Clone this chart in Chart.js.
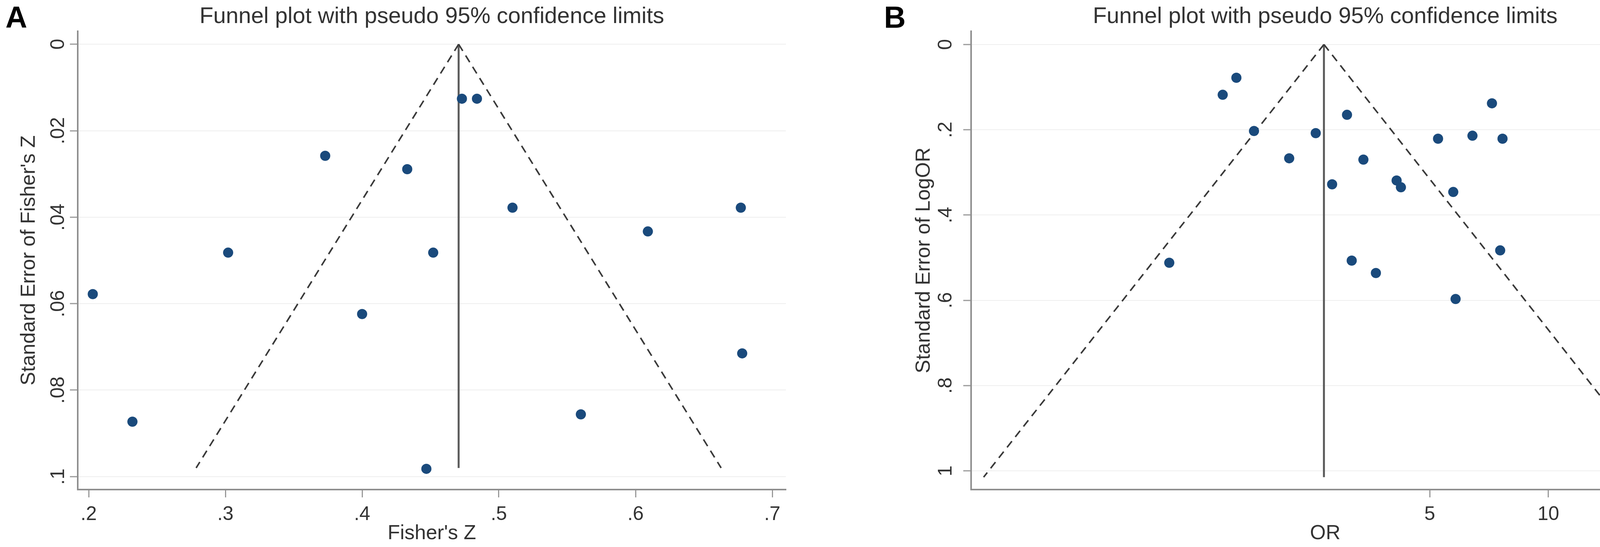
<!DOCTYPE html>
<html>
<head>
<meta charset="utf-8">
<script src="https://cdn.jsdelivr.net/npm/chart.js@4.4.1/dist/chart.umd.min.js"></script>
<style>
  html, body { margin: 0; padding: 0; background: #fff; }
  #wrap { position: relative; width: 4317px; height: 1400px; }
  #wrap canvas { position: absolute; top: 0; }
</style>
</head>
<body>
<div id="wrap">
  <canvas id="panelA" width="2200" height="1400" style="left:0"></canvas>
  <canvas id="panelB" width="2117" height="1400" style="left:2200px"></canvas>
</div>
<script>
// Panel A: Fisher's Z vs its standard error
const fisherZ   = [0.203, 0.232, 0.302, 0.373, 0.400, 0.433, 0.452, 0.447, 0.473, 0.484, 0.510, 0.560, 0.609, 0.677, 0.678];
const seFisherZ = [0.0578, 0.0873, 0.0482, 0.0258, 0.0624, 0.0289, 0.0482, 0.0982, 0.0126, 0.0126, 0.0378, 0.0856, 0.0433, 0.0378, 0.0715];
const pooledA = 0.4706;   // vertical line
const maxSeA = 0.098;     // bottom of the funnel
const lowerA = 0.2786;    // funnel limits at maxSeA
const upperA = 0.6626;
const xTicksA = [0.2, 0.3, 0.4, 0.5, 0.6, 0.7];
const yTicksA = [0, 0.02, 0.04, 0.06, 0.08, 0.1];

// Panel B: OR vs standard error of log OR
const oddsRatio = [1.615, 1.491, 1.790, 2.199, 2.568, 2.826, 3.083, 3.393, 4.120, 4.225, 5.737, 5.249, 6.418, 7.193, 7.651, 7.547, 3.169, 3.650, 1.091, 5.816, 19.2, 19.73];
const seLogOR   = [0.078, 0.118, 0.203, 0.267, 0.208, 0.328, 0.165, 0.270, 0.319, 0.335, 0.346, 0.221, 0.214, 0.138, 0.221, 0.483, 0.507, 0.536, 0.512, 0.597, 0.593, 1.015];
const pooledB = 2.694;
const maxSeB = 1.015;
const lowerB = 0.3686;
const upperB = 19.69;
const xTicksB = [5, 10, 15, 20];
const yTicksB = [0, 0.2, 0.4, 0.6, 0.8, 1];

const FONT = 'Liberation Sans, Arial, sans-serif';
const TEXT = '#333';
const DOT = '#1a4a7c';

// Stata style labels: ".02" instead of "0.02"
function stataLabel(v) {
  return String(Math.round(v * 1000) / 1000).replace(/^0\./, '.');
}

const headerPlugin = {
  id: 'header',
  afterDraw(chart, args, opts) {
    const ctx = chart.ctx;
    const area = chart.chartArea;
    ctx.save();
    ctx.fillStyle = '#000';
    ctx.font = 'bold 77px ' + FONT;
    ctx.textAlign = 'left';
    ctx.textBaseline = 'alphabetic';
    ctx.fillText(opts.letter, opts.letterX, 71);
    ctx.fillStyle = TEXT;
    ctx.font = '58px ' + FONT;
    ctx.textAlign = 'center';
    ctx.fillText('Funnel plot with pseudo 95% confidence limits', (area.left + area.right) / 2, 59);
    ctx.restore();
  }
};

function makePanel(id, cfg) {
  const points = cfg.xs.map((x, i) => ({ x: x, y: cfg.ys[i] }));
  return new Chart(document.getElementById(id), {
    type: 'scatter',
    data: {
      datasets: [
        {
          data: points,
          pointRadius: 13,
          pointHoverRadius: 13,
          pointBackgroundColor: DOT,
          pointBorderWidth: 0
        },
        {
          data: [{ x: cfg.pooled, y: 0 }, { x: cfg.lower, y: cfg.maxSe }],
          showLine: true, pointRadius: 0,
          borderColor: '#3a3a3a', borderWidth: 4, borderDash: [20, 14]
        },
        {
          data: [{ x: cfg.pooled, y: 0 }, { x: cfg.upper, y: cfg.maxSe }],
          showLine: true, pointRadius: 0,
          borderColor: '#3a3a3a', borderWidth: 4, borderDash: [20, 14]
        },
        {
          data: [{ x: cfg.pooled, y: 0 }, { x: cfg.pooled, y: cfg.maxSe }],
          showLine: true, pointRadius: 0,
          borderColor: '#5a5a5a', borderWidth: 5
        }
      ]
    },
    options: {
      responsive: false,
      animation: false,
      devicePixelRatio: 1,
      layout: { padding: { top: 80, right: cfg.padRight, left: 0, bottom: 0 } },
      plugins: {
        legend: { display: false },
        tooltip: { enabled: false },
        header: { letter: cfg.letter, letterX: cfg.letterX }
      },
      scales: {
        x: {
          type: cfg.xType,
          min: cfg.xMin, max: cfg.xMax,
          bounds: 'data',
          afterBuildTicks: s => { s.ticks = cfg.xTicks.map(v => ({ value: v })); },
          afterFit: s => { s.height = 147; },
          grid: { drawOnChartArea: false, tickLength: 20, tickColor: '#999', tickWidth: 3 },
          border: { color: '#8e8e8e', width: 4 },
          ticks: {
            autoSkip: false, maxRotation: 0, padding: 14,
            color: TEXT, font: { family: FONT, size: 50 },
            callback: v => stataLabel(v)
          },
          title: {
            display: true, text: cfg.xTitle, color: TEXT,
            font: { family: FONT, size: 52 }, padding: { top: 0, bottom: 3 }
          }
        },
        y: {
          type: 'linear',
          reverse: true,
          min: cfg.yMin, max: cfg.yMax,
          bounds: 'data',
          afterBuildTicks: s => { s.ticks = cfg.yTicks.map(v => ({ value: v })); },
          afterFit: s => { s.width = cfg.yWidth; },
          grid: { color: '#eeeeee', lineWidth: 2, tickLength: 20, tickColor: '#999', tickWidth: 3 },
          border: { color: '#8e8e8e', width: 4 },
          ticks: {
            autoSkip: false, minRotation: 90, maxRotation: 90,
            crossAlign: 'center', padding: cfg.yTickPad,
            color: TEXT, font: { family: FONT, size: 50 },
            callback: v => stataLabel(v)
          },
          title: {
            display: true, text: cfg.yTitle, color: TEXT,
            font: { family: FONT, size: 52 }, padding: { top: cfg.yTitlePad, bottom: 0 }
          }
        }
      }
    },
    plugins: [headerPlugin]
  });
}

makePanel('panelA', {
  letter: 'A', letterX: 14,
  xs: fisherZ, ys: seFisherZ,
  pooled: pooledA, lower: lowerA, upper: upperA, maxSe: maxSeA,
  xType: 'linear', xMin: 0.192, xMax: 0.710, xTicks: xTicksA,
  yMin: -0.003, yMax: 0.103, yTicks: yTicksA,
  xTitle: "Fisher's Z", yTitle: "Standard Error of Fisher's Z",
  yWidth: 199, yTickPad: -6, yTitlePad: 43, padRight: 188
});

makePanel('panelB', {
  letter: 'B', letterX: 63,
  xs: oddsRatio, ys: seLogOR,
  pooled: pooledB, lower: lowerB, upper: upperB, maxSe: maxSeB,
  xType: 'logarithmic', xMin: 0.3426, xMax: 21.5, xTicks: xTicksB,
  yMin: -0.031, yMax: 1.044, yTicks: yTicksB,
  xTitle: 'OR', yTitle: 'Standard Error of LogOR',
  yWidth: 286, yTickPad: 23, yTitlePad: 134, padRight: 18
});
</script>
</body>
</html>
